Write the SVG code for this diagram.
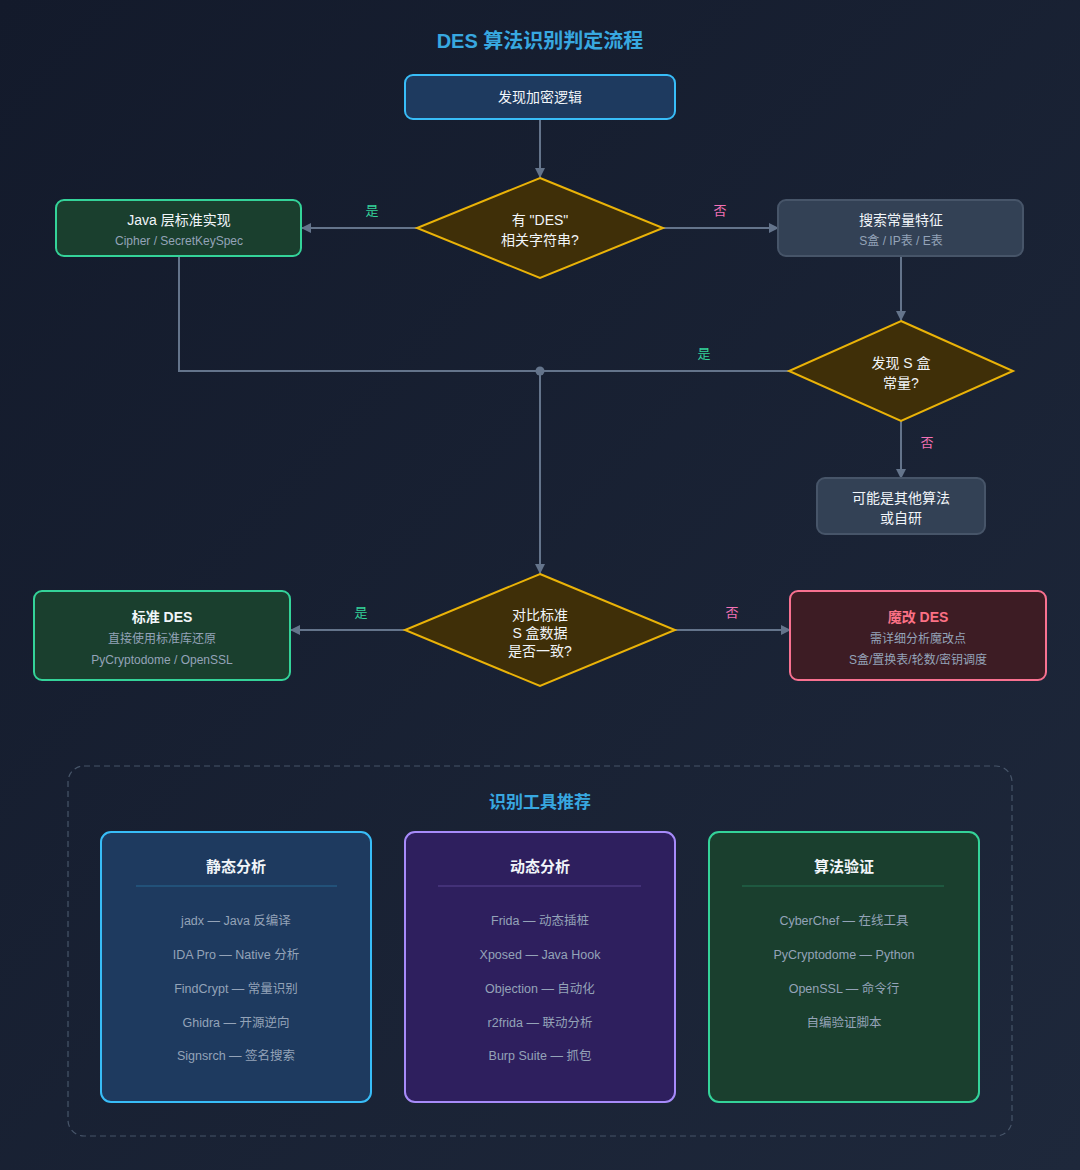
<svg xmlns="http://www.w3.org/2000/svg" width="1080" height="1170" viewBox="0 0 1080 1170">
  <defs>
    <linearGradient id="bg" x1="0" y1="0" x2="1" y2="1">
      <stop offset="0" stop-color="#131a2b"/>
      <stop offset="1" stop-color="#1e283b"/>
    </linearGradient>
    <marker id="arr" viewBox="0 0 10 10" refX="9" refY="5" markerWidth="10" markerHeight="10" markerUnits="userSpaceOnUse" orient="auto">
      <path d="M0,0 L10,5 L0,10 z" fill="#64748b"/>
    </marker>
    <style>
      text { font-family: "Liberation Sans", "Noto Sans CJK SC", sans-serif; text-anchor: middle; }
      .title { font-size: 20px; font-weight: bold; fill: #38a8e0; }
      .main { font-size: 14px; fill: #f1f5f9; }
      .bold { font-weight: bold; }
      .sub { font-size: 12px; fill: #94a3b8; }
      .dec { fill: #3f2f08; stroke: #eab308; stroke-width: 2; }
      .dtext { font-size: 14px; fill: #f1f5f9; }
      .blue { fill: #1e3a5f; stroke: #38bdf8; stroke-width: 2; }
      .green { fill: #1a3f2e; stroke: #34d399; stroke-width: 2; }
      .gray { fill: #334155; stroke: #475569; stroke-width: 2; }
      .red { fill: #3d1c24; stroke: #f87190; stroke-width: 2; }
      .purple { fill: #2e1f5e; stroke: #a78bfa; stroke-width: 2; }
      .conn { stroke: #64748b; stroke-width: 2; fill: none; }
      .yes { font-size: 13px; fill: #34d399; }
      .no { font-size: 13px; fill: #f472b6; }
      .card-title { font-size: 15px; font-weight: bold; fill: #f1f5f9; }
      .item { font-size: 12.5px; fill: #94a3b8; }
    </style>
  </defs>
  <rect x="0" y="0" width="1080" height="1170" fill="url(#bg)"/>
  <text class="title" x="540" y="48">DES 算法识别判定流程</text>

  <g id="connectors">
    <line class="conn" x1="540" y1="119" x2="540" y2="177" marker-end="url(#arr)"/>
    <line class="conn" x1="417" y1="228" x2="302" y2="228" marker-end="url(#arr)"/>
    <text class="yes" x="372" y="215">是</text>
    <line class="conn" x1="663" y1="228" x2="778" y2="228" marker-end="url(#arr)"/>
    <text class="no" x="720" y="215">否</text>
    <line class="conn" x1="901" y1="256" x2="901" y2="320" marker-end="url(#arr)"/>
    <polyline class="conn" points="179,256 179,371 789,371"/>
    <text class="yes" x="704" y="358">是</text>
    <circle cx="540" cy="371" r="4.5" fill="#64748b"/>
    <line class="conn" x1="540" y1="371" x2="540" y2="573" marker-end="url(#arr)"/>
    <line class="conn" x1="901" y1="421" x2="901" y2="478" marker-end="url(#arr)"/>
    <text class="no" x="927" y="447">否</text>
    <line class="conn" x1="405" y1="630" x2="291" y2="630" marker-end="url(#arr)"/>
    <text class="yes" x="361" y="617">是</text>
    <line class="conn" x1="675" y1="630" x2="790" y2="630" marker-end="url(#arr)"/>
    <text class="no" x="732" y="617">否</text>
  </g>

  <g id="start">
    <rect class="blue" x="405" y="75" width="270" height="44" rx="8"/>
    <text class="main" x="540" y="102">发现加密逻辑</text>
  </g>

  <g id="dec-string">
    <polygon class="dec" points="540,178 663,228 540,278 417,228"/>
    <text class="dtext" x="540" y="225">有 "DES"</text>
    <text class="dtext" x="540" y="245">相关字符串?</text>
  </g>

  <g id="java-std">
    <rect class="green" x="56" y="200" width="245" height="56" rx="8"/>
    <text class="main" x="179" y="225">Java 层标准实现</text>
    <text class="sub" x="179" y="245">Cipher / SecretKeySpec</text>
  </g>

  <g id="search-const">
    <rect class="gray" x="778" y="200" width="245" height="56" rx="8"/>
    <text class="main" x="901" y="225">搜索常量特征</text>
    <text class="sub" x="901" y="245">S盒 / IP表 / E表</text>
  </g>

  <g id="dec-sbox">
    <polygon class="dec" points="901,321 1013,371 901,421 789,371"/>
    <text class="dtext" x="901" y="368">发现 S 盒</text>
    <text class="dtext" x="901" y="388">常量?</text>
  </g>

  <g id="other-algo">
    <rect class="gray" x="817" y="478" width="168" height="56" rx="8"/>
    <text class="main" x="901" y="503">可能是其他算法</text>
    <text class="main" x="901" y="523">或自研</text>
  </g>

  <g id="dec-compare">
    <polygon class="dec" points="540,574 675,630 540,686 405,630"/>
    <text class="dtext" x="540" y="620">对比标准</text>
    <text class="dtext" x="540" y="638">S 盒数据</text>
    <text class="dtext" x="540" y="656">是否一致?</text>
  </g>

  <g id="std-des">
    <rect class="green" x="34" y="591" width="256" height="89" rx="8"/>
    <text class="main bold" x="162" y="622">标准 DES</text>
    <text class="sub" x="162" y="643">直接使用标准库还原</text>
    <text class="sub" x="162" y="664">PyCryptodome / OpenSSL</text>
  </g>

  <g id="magic-des">
    <rect class="red" x="790" y="591" width="256" height="89" rx="8"/>
    <text class="main bold" x="918" y="622" style="fill:#fb7185">魔改 DES</text>
    <text class="sub" x="918" y="643">需详细分析魔改点</text>
    <text class="sub" x="918" y="664">S盒/置换表/轮数/密钥调度</text>
  </g>

  <g id="tools">
    <rect x="68" y="766" width="944" height="370" rx="16" fill="none" stroke="#475569" stroke-width="1.2" stroke-dasharray="6,4"/>
    <text x="540" y="808" style="font-size:17px;font-weight:bold;fill:#38a8e0">识别工具推荐</text>

    <g id="card-static">
      <rect class="blue" x="101" y="832" width="270" height="270" rx="10"/>
      <text class="card-title" x="236" y="872">静态分析</text>
      <line x1="136" y1="886" x2="337" y2="886" stroke="#38bdf8" stroke-opacity="0.35" stroke-width="1"/>
      <text class="item" x="236" y="925">jadx — Java 反编译</text>
      <text class="item" x="236" y="959">IDA Pro — Native 分析</text>
      <text class="item" x="236" y="993">FindCrypt — 常量识别</text>
      <text class="item" x="236" y="1027">Ghidra — 开源逆向</text>
      <text class="item" x="236" y="1060">Signsrch — 签名搜索</text>
    </g>

    <g id="card-dynamic">
      <rect class="purple" x="405" y="832" width="270" height="270" rx="10"/>
      <text class="card-title" x="540" y="872">动态分析</text>
      <line x1="438" y1="886" x2="641" y2="886" stroke="#a78bfa" stroke-opacity="0.35" stroke-width="1"/>
      <text class="item" x="540" y="925">Frida — 动态插桩</text>
      <text class="item" x="540" y="959">Xposed — Java Hook</text>
      <text class="item" x="540" y="993">Objection — 自动化</text>
      <text class="item" x="540" y="1027">r2frida — 联动分析</text>
      <text class="item" x="540" y="1060">Burp Suite — 抓包</text>
    </g>

    <g id="card-verify">
      <rect class="green" x="709" y="832" width="270" height="270" rx="10"/>
      <text class="card-title" x="844" y="872">算法验证</text>
      <line x1="742" y1="886" x2="944" y2="886" stroke="#34d399" stroke-opacity="0.35" stroke-width="1"/>
      <text class="item" x="844" y="925">CyberChef — 在线工具</text>
      <text class="item" x="844" y="959">PyCryptodome — Python</text>
      <text class="item" x="844" y="993">OpenSSL — 命令行</text>
      <text class="item" x="844" y="1027">自编验证脚本</text>
    </g>
  </g>
</svg>
